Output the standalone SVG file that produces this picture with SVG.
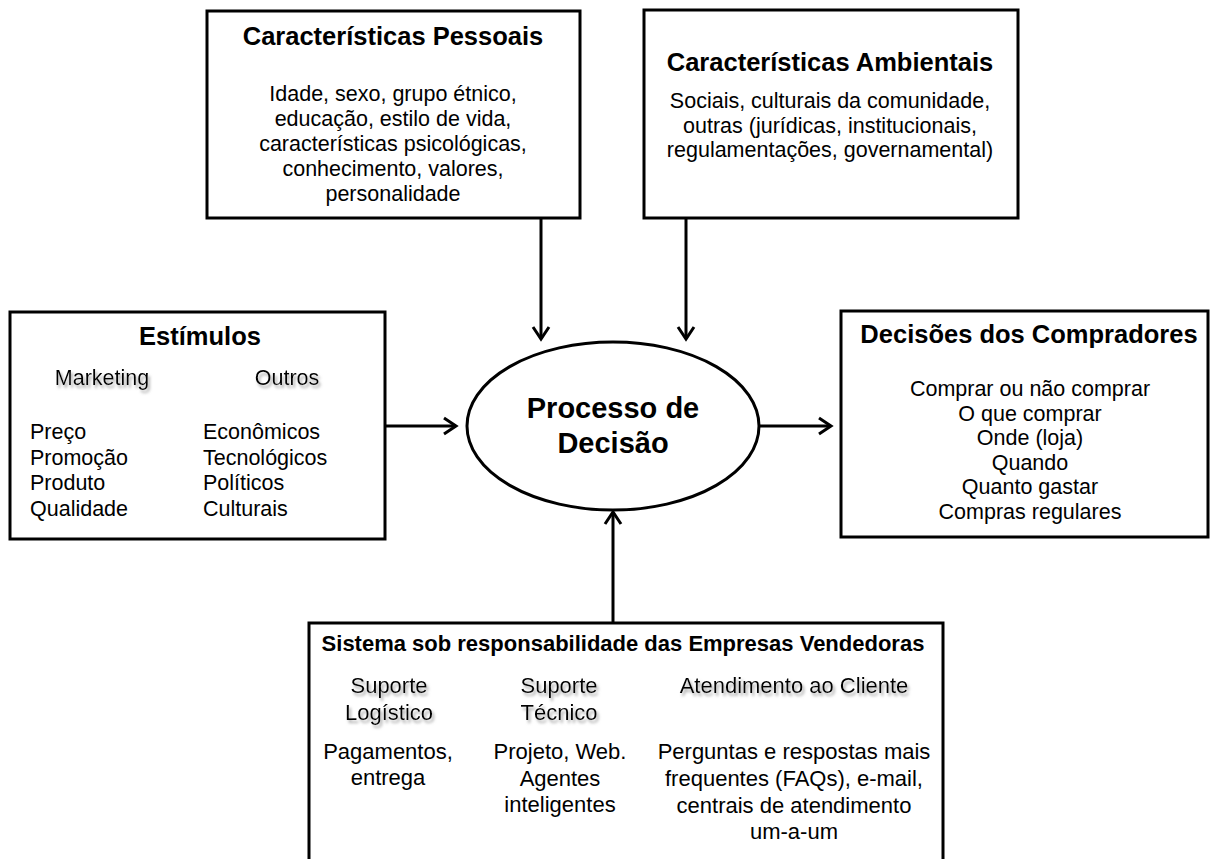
<svg xmlns="http://www.w3.org/2000/svg" width="1211" height="859" viewBox="0 0 1211 859">
<style>
.box{fill:#fff;stroke:#000;stroke-width:3}
.t{font-family:"Liberation Sans",Arial,sans-serif;fill:#000}
.b{font-weight:bold}
.c{text-anchor:middle}
.s21{font-size:21.5px}
.s22{font-size:22px}
.s25{font-size:25.5px}
.sh{filter:url(#shadow)}
.con{stroke:#000;stroke-width:3;fill:none;marker-end:url(#arr)}
</style>
<defs>
<filter id="shadow" x="-10%" y="-30%" width="130%" height="170%">
<feGaussianBlur in="SourceAlpha" stdDeviation="1.4" result="bl"/>
<feOffset in="bl" dx="2" dy="2.5" result="of"/>
<feColorMatrix in="of" type="matrix" values="0 0 0 0 0.35  0 0 0 0 0.35  0 0 0 0 0.35  0 0 0 0.9 0" result="sc"/>
<feMerge><feMergeNode in="sc"/><feMergeNode in="SourceGraphic"/></feMerge>
</filter>
<marker id="arr" markerUnits="userSpaceOnUse" viewBox="-16 -11 19 22" markerWidth="19" markerHeight="22" refX="0" refY="0" orient="auto">
<path d="M-12,-8 L0,0 L-12,8" fill="none" stroke="#000" stroke-width="3"/>
</marker>
</defs>

<g id="connectors">
<line class="con" x1="541" y1="218" x2="541" y2="339"/>
<line class="con" x1="686" y1="218" x2="686" y2="339"/>
<line class="con" x1="385" y1="426" x2="456" y2="426"/>
<line class="con" x1="760" y1="426" x2="831" y2="426"/>
<line class="con" x1="613" y1="623" x2="613" y2="512"/>
</g>

<g id="pessoais">
<rect class="box" x="207" y="11" width="373" height="207"/>
<text class="t b c s25" x="393" y="45">Características Pessoais</text>
<text class="t c s21" x="393" y="100.5">Idade, sexo, grupo étnico,</text>
<text class="t c s21" x="393" y="125.5">educação, estilo de vida,</text>
<text class="t c s21" x="393" y="150.5">características psicológicas,</text>
<text class="t c s21" x="393" y="175.5">conhecimento, valores,</text>
<text class="t c s21" x="393" y="201">personalidade</text>
</g>

<g id="ambientais">
<rect class="box" x="644" y="10" width="374" height="208"/>
<text class="t b c s25" x="830" y="71">Características Ambientais</text>
<text class="t c s21" x="830" y="108">Sociais, culturais da comunidade,</text>
<text class="t c s21" x="830" y="132.5">outras (jurídicas, institucionais,</text>
<text class="t c s21" x="830" y="157">regulamentações, governamental)</text>
</g>

<g id="estimulos">
<rect class="box" x="10" y="312" width="375" height="227"/>
<text class="t b c s25" x="200" y="345">Estímulos</text>
<text class="t c s21 sh" x="102" y="385">Marketing</text>
<text class="t c s21 sh" x="287" y="385">Outros</text>
<text class="t s21" x="30" y="439">Preço</text>
<text class="t s21" x="30" y="465">Promoção</text>
<text class="t s21" x="30" y="490">Produto</text>
<text class="t s21" x="30" y="516">Qualidade</text>
<text class="t s21" x="203" y="439">Econômicos</text>
<text class="t s21" x="203" y="465">Tecnológicos</text>
<text class="t s21" x="203" y="490">Políticos</text>
<text class="t s21" x="203" y="516">Culturais</text>
</g>

<g id="processo">
<ellipse cx="613" cy="426" rx="146" ry="84" fill="#fff" stroke="#000" stroke-width="3"/>
<text class="t b c" style="font-size:29px" x="613" y="418">Processo de</text>
<text class="t b c" style="font-size:29px" x="613" y="453">Decisão</text>
</g>

<g id="decisoes">
<rect class="box" x="841" y="311" width="367" height="226"/>
<text class="t b c s25" x="1029" y="343">Decisões dos Compradores</text>
<text class="t c s21" x="1030" y="396">Comprar ou não comprar</text>
<text class="t c s21" x="1030" y="420.5">O que comprar</text>
<text class="t c s21" x="1030" y="445">Onde (loja)</text>
<text class="t c s21" x="1030" y="469.5">Quando</text>
<text class="t c s21" x="1030" y="494">Quanto gastar</text>
<text class="t c s21" x="1030" y="519">Compras regulares</text>
</g>

<g id="sistema">
<rect class="box" x="309" y="623" width="634" height="260"/>
<text class="t b c s22" x="623" y="651">Sistema sob responsabilidade das Empresas Vendedoras</text>
<text class="t c s22 sh" x="389" y="693">Suporte</text>
<text class="t c s22 sh" x="389" y="720">Logístico</text>
<text class="t c s22 sh" x="559" y="693">Suporte</text>
<text class="t c s22 sh" x="559" y="720">Técnico</text>
<text class="t c s22 sh" x="794" y="693">Atendimento ao Cliente</text>
<text class="t c s22" x="388" y="759">Pagamentos,</text>
<text class="t c s22" x="388" y="785">entrega</text>
<text class="t c s22" x="560" y="759">Projeto, Web.</text>
<text class="t c s22" x="560" y="785.5">Agentes</text>
<text class="t c s22" x="560" y="812">inteligentes</text>
<text class="t c s22" x="794" y="759">Perguntas e respostas mais</text>
<text class="t c s22" x="794" y="786">frequentes (FAQs), e-mail,</text>
<text class="t c s22" x="794" y="812.5">centrais de atendimento</text>
<text class="t c s22" x="794" y="838.5">um-a-um</text>
</g>
</svg>
